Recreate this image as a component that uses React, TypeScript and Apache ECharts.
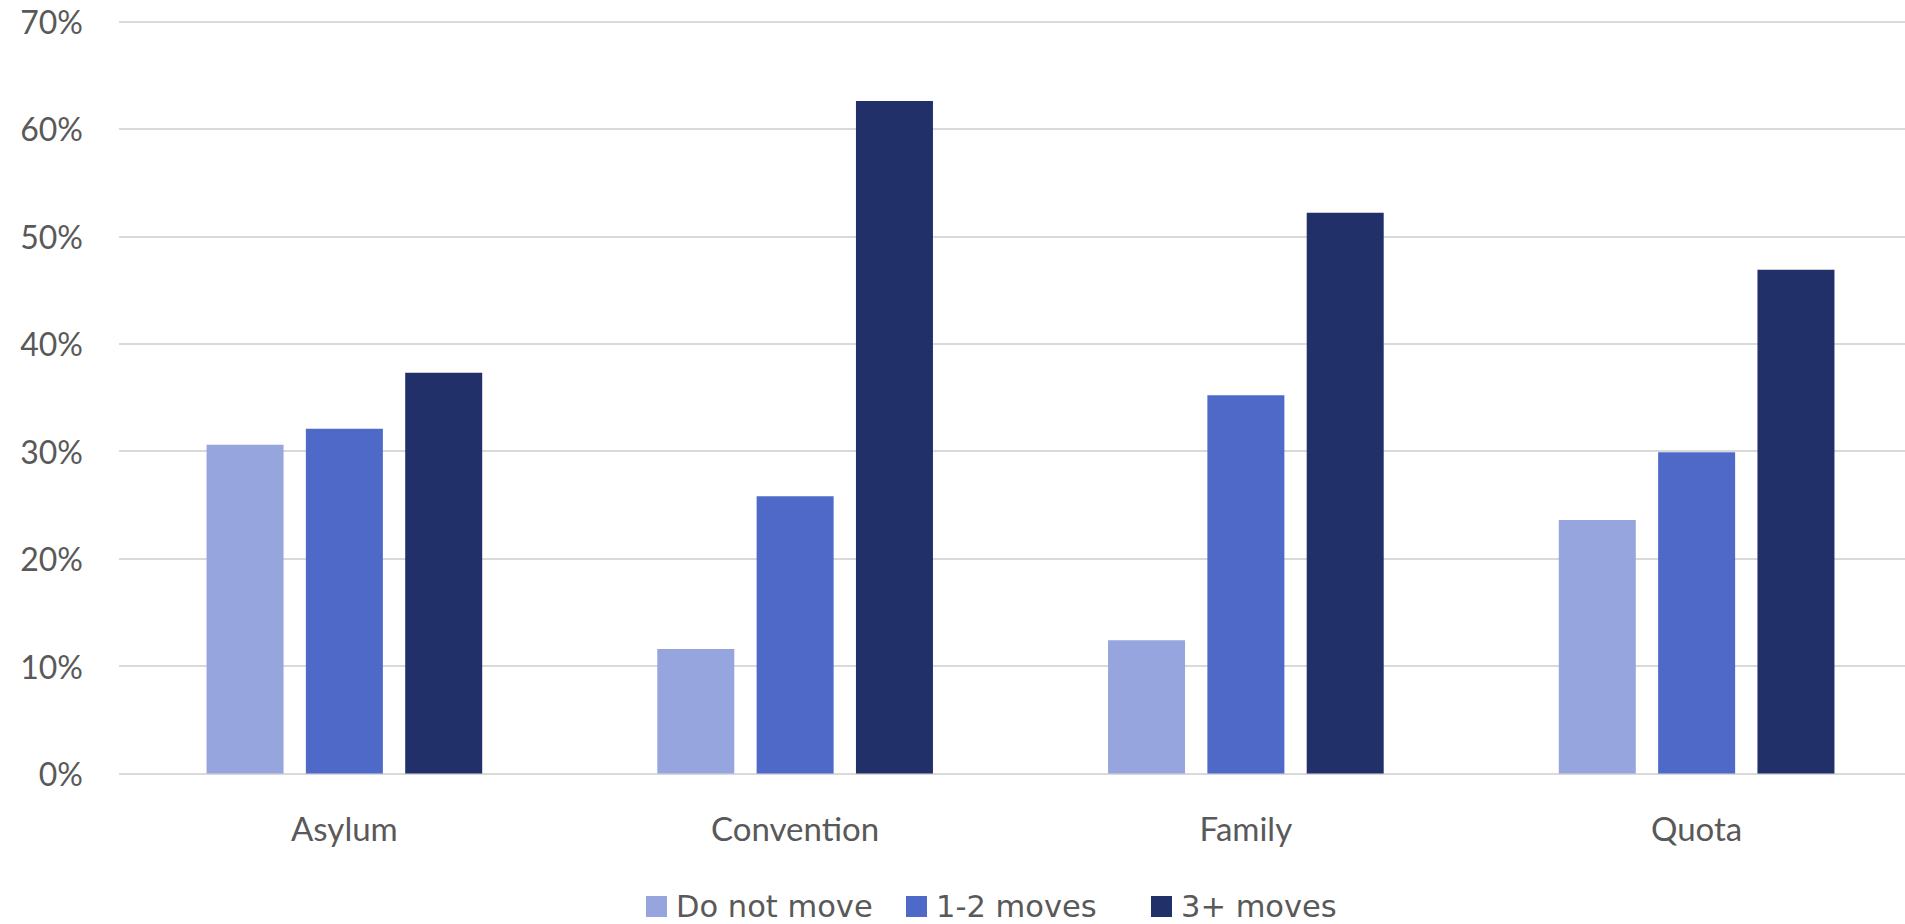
import React, { useEffect, useRef } from "react";
import * as echarts from "echarts";

const categories = ["Asylum", "Convention", "Family", "Quota"];
const seriesNames = ["Do not move", "1-2 moves", "3+ moves"];
const doNotMove = [30.6, 11.6, 12.4, 23.6];
const oneTwoMoves = [32.1, 25.8, 35.2, 29.9];
const threePlusMoves = [37.3, 62.6, 52.2, 46.9];
const seriesColors = ["#96A5DE", "#4F69C9", "#22306A"];
const legendLefts = [646, 906, 1151];

export default function App() {
  const ref = useRef<HTMLDivElement>(null);
  useEffect(() => {
    document.body.style.margin = "0";
    const chart = echarts.init(ref.current!, null, { renderer: "svg" });
    const values = [doNotMove, oneTwoMoves, threePlusMoves];
    chart.setOption({
      animation: false,
      backgroundColor: "#ffffff",
      textStyle: { fontFamily: "Lato" },
      grid: { left: 119, width: 1803, top: 21.5, height: 752 },
      legend: seriesNames.map((name, i) => ({
        left: legendLefts[i],
        top: 891,
        padding: 0,
        itemWidth: 21,
        itemHeight: 21,
        icon: "rect",
        textStyle: { fontFamily: "DejaVu Sans", fontSize: 30.5, lineHeight: 28, color: "#595959", padding: [0, 0, 0, 4] },
        data: [name],
      })),
      xAxis: {
        type: "category",
        data: categories,
        axisLine: { show: false },
        axisTick: { show: false },
        axisLabel: { fontFamily: "Lato", fontSize: 33, color: "#595959", margin: 38 },
      },
      yAxis: {
        type: "value",
        min: 0,
        max: 70,
        interval: 10,
        axisLine: { show: false },
        axisTick: { show: false },
        axisLabel: { formatter: "{value}%", fontFamily: "Lato", fontSize: 32, color: "#595959", margin: 36 },
        splitLine: { lineStyle: { color: "#D9D9D9", width: 2 } },
      },
      series: seriesNames.map((name, i) => ({
        name,
        type: "bar",
        data: values[i],
        barWidth: 77,
        barGap: "29%",
        itemStyle: { color: seriesColors[i] },
      })),
    });
    return () => chart.dispose();
  }, []);
  return (
    <div style={{ width: 1905, height: 924, overflow: "hidden", position: "relative" }}>
      <div ref={ref} style={{ width: 1930, height: 924 }} />
    </div>
  );
}
